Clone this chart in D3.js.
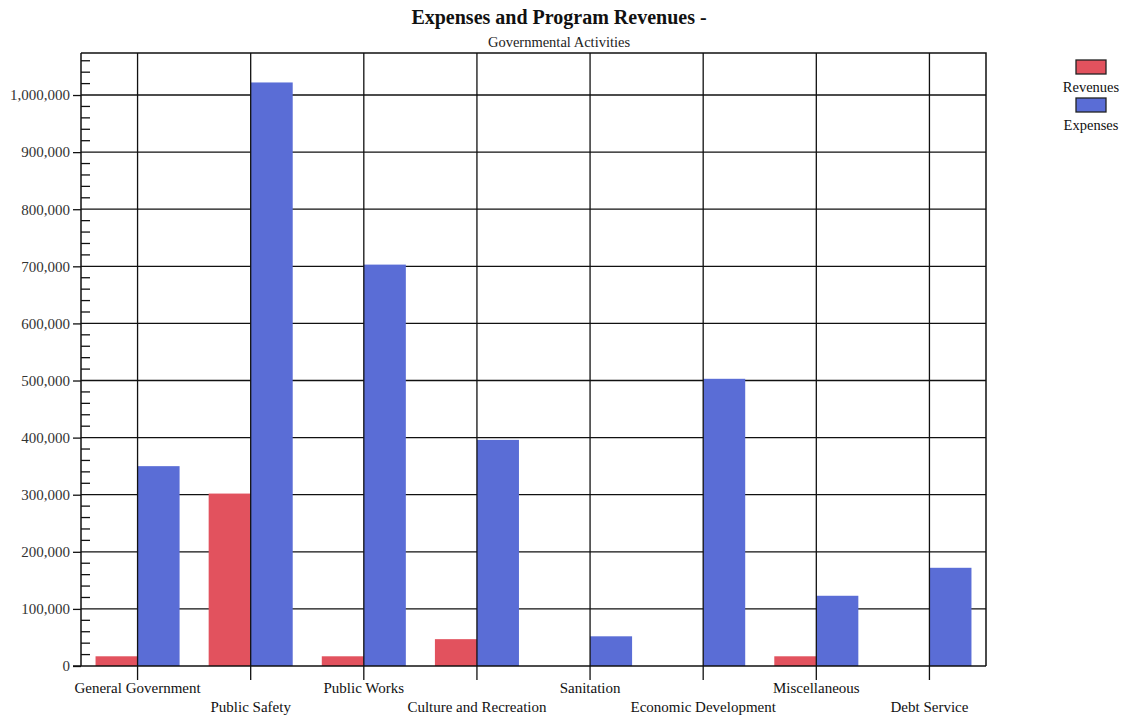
<!DOCTYPE html>
<html>
<head>
<meta charset="utf-8">
<script src="https://cdn.jsdelivr.net/npm/d3@7"></script>
<style>
  body { margin: 0; background: #fff; }
  text { font-family: "Liberation Serif", "Times New Roman", serif; }
</style>
</head>
<body>
<svg id="chart" width="1125" height="717"></svg>
<script>
const categories = ["General Government", "Public Safety", "Public Works", "Culture and Recreation",
  "Sanitation", "Economic Development", "Miscellaneous", "Debt Service"];
const seriesNames = ["Revenues", "Expenses"];
const revenues = [17000, 302000, 17000, 47000, 0, 0, 17000, 0];
const expenses = [350000, 1022000, 703000, 396000, 52000, 503000, 123000, 172000];
const yTicks = [0, 100000, 200000, 300000, 400000, 500000, 600000, 700000, 800000, 900000, 1000000];
const colors = ["#e2525e", "#5a6dd6"];

(function () {
const svg = d3.select("#chart");
const mLeft = 81, mRight = 986, mTop = 53, mBottom = 666;

const x0 = d3.scaleBand().domain(categories).range([mLeft, mRight]).paddingInner(0).paddingOuter(0);
const x1 = d3.scaleBand().domain(seriesNames).range([0, x0.bandwidth()]).paddingInner(0).paddingOuter(0.346);
const y = d3.scaleLinear().domain([0, 1073600]).range([mBottom, mTop]);

// horizontal gridlines
svg.append("g").selectAll("line").data(yTicks.slice(1)).join("line")
  .attr("x1", mLeft).attr("x2", mRight)
  .attr("y1", d => y(d)).attr("y2", d => y(d))
  .attr("stroke", "#111").attr("stroke-width", 1.3);

// frame (top & right)
svg.append("path")
  .attr("d", `M${mLeft},${mTop}H${mRight}V${mBottom}`)
  .attr("fill", "none").attr("stroke", "#111").attr("stroke-width", 1.5);

// bars
const data = categories.map((c, i) => ({ c, vals: [revenues[i], expenses[i]] }));
const groups = svg.append("g").selectAll("g").data(data).join("g")
  .attr("transform", d => `translate(${x0(d.c)},0)`);
groups.selectAll("rect").data(d => d.vals.map((v, j) => ({ s: seriesNames[j], v, j }))).join("rect")
  .attr("x", d => x1(d.s)).attr("width", x1.bandwidth())
  .attr("y", d => y(d.v)).attr("height", d => mBottom - y(d.v))
  .attr("fill", d => colors[d.j]);

// vertical gridlines at category centers, extending below axis as ticks
svg.append("g").selectAll("line").data(categories).join("line")
  .attr("x1", d => x0(d) + x0.bandwidth() / 2).attr("x2", d => x0(d) + x0.bandwidth() / 2)
  .attr("y1", mTop).attr("y2", mBottom + 14)
  .attr("stroke", "#111").attr("stroke-width", 1.3);

// y axis
const yAxis = d3.axisLeft(y).tickValues(yTicks).tickSize(8).tickPadding(3)
  .tickFormat(d3.format(","));
const ya = svg.append("g").attr("transform", `translate(${mLeft},0)`).call(yAxis);
ya.select(".domain").attr("d", `M0,${mTop}V${mBottom}`).attr("stroke", "#111").attr("stroke-width", 1.5);
ya.selectAll(".tick line").attr("stroke", "#111").attr("stroke-width", 1.3);
ya.selectAll(".tick text").attr("font-size", 15).attr("fill", "#333")
  .style("font-family", "'Liberation Serif', serif");
// minor ticks (inside)
const minor = d3.range(20000, 1073600, 20000).filter(v => v % 100000 !== 0);
svg.append("g").selectAll("line").data(minor).join("line")
  .attr("x1", mLeft).attr("x2", mLeft + 9)
  .attr("y1", d => y(d)).attr("y2", d => y(d))
  .attr("stroke", "#111").attr("stroke-width", 1.3);

// x axis line
svg.append("line").attr("x1", mLeft - 8).attr("x2", mRight).attr("y1", mBottom).attr("y2", mBottom)
  .attr("stroke", "#111").attr("stroke-width", 1.5);

// x labels (staggered)
svg.append("g").selectAll("text").data(categories).join("text")
  .attr("x", d => x0(d) + x0.bandwidth() / 2)
  .attr("y", (d, i) => i % 2 === 0 ? 693 : 712)
  .attr("text-anchor", "middle").attr("font-size", 15).attr("fill", "#111")
  .text(d => d);

// title
svg.append("text").attr("x", 559).attr("y", 24).attr("text-anchor", "middle")
  .attr("font-size", 20).attr("font-weight", "bold").attr("fill", "#111")
  .text("Expenses and Program Revenues -");
svg.append("text").attr("x", 559).attr("y", 47).attr("text-anchor", "middle")
  .attr("font-size", 14.5).attr("fill", "#222")
  .text("Governmental Activities");

// legend
const leg = svg.append("g");
seriesNames.forEach((s, i) => {
  leg.append("rect").attr("x", 1076).attr("y", 60 + i * 38).attr("width", 30).attr("height", 14)
    .attr("fill", colors[i]).attr("stroke", "#222").attr("stroke-width", 1.3);
  leg.append("text").attr("x", 1091).attr("y", 92 + i * 38).attr("text-anchor", "middle")
    .attr("font-size", 14.5).attr("fill", "#111").text(s);
});
})();
</script>
</body>
</html>
